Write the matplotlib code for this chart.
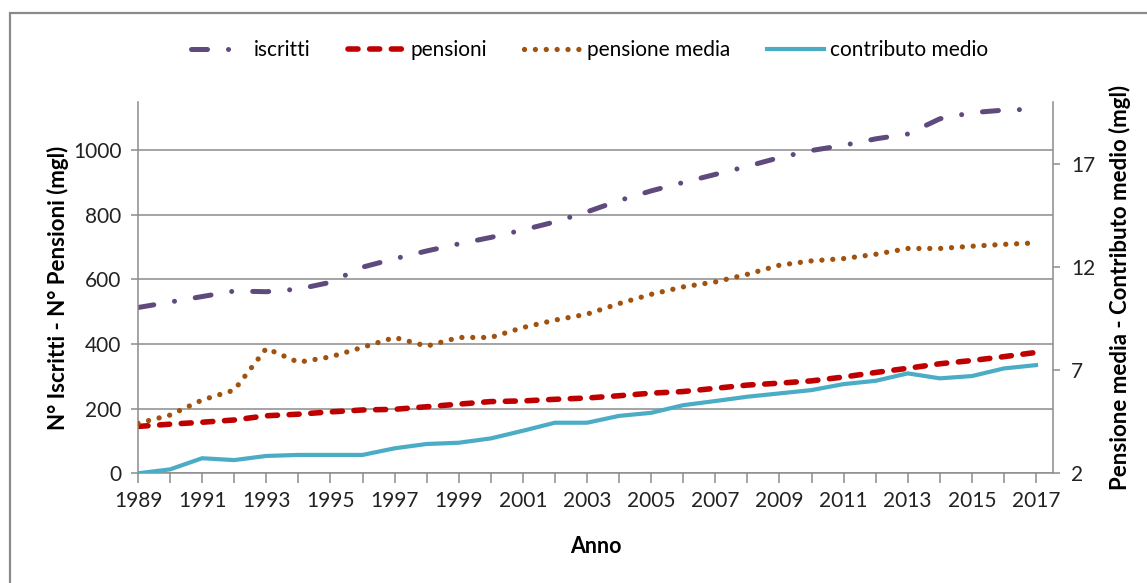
import matplotlib
matplotlib.use("Agg")
import matplotlib.pyplot as plt
from matplotlib.patches import Rectangle

plt.rcParams['font.family'] = ['Lato', 'DejaVu Sans']

# Data
years = list(range(1989, 2018))
iscritti = [513, 530, 547, 564, 562, 570, 591, 638, 664, 688, 710, 730, 753, 778, 809, 844,
            874, 900, 925, 950, 977, 999, 1015, 1035, 1050, 1097, 1116, 1124, 1127]
pensioni = [145, 152, 158, 165, 178, 183, 190, 196, 198, 206, 214, 222, 224, 229, 233, 240,
            248, 253, 263, 273, 279, 286, 298, 312, 325, 339, 349, 361, 374]
pensione_media = [4.42, 4.82, 5.55, 6.03, 8.05, 7.38, 7.64, 8.10, 8.58, 8.16, 8.58, 8.58, 9.06,
                  9.42, 9.71, 10.22, 10.67, 11.03, 11.27, 11.64, 12.08, 12.29, 12.40, 12.61,
                  12.89, 12.89, 13.00, 13.09, 13.16]
contributo_medio = [2.00, 2.19, 2.73, 2.64, 2.84, 2.89, 2.89, 2.89, 3.21, 3.42, 3.48, 3.69, 4.06,
                    4.45, 4.45, 4.78, 4.93, 5.30, 5.50, 5.71, 5.87, 6.03, 6.32, 6.48, 6.84,
                    6.60, 6.71, 7.08, 7.24]

left_ticks = [0, 200, 400, 600, 800, 1000]
right_ticks = [2, 7, 12, 17]

GRID = "#8c8c8c"

fig = plt.figure(figsize=(11.47, 5.83), dpi=100)
ax1 = fig.add_axes([138 / 1147, 1 - 473.3 / 583, (1053 - 138) / 1147, (473.3 - 101.7) / 583])
ax2 = ax1.twinx()

# outer frame (only top and left visible in the reference)
fig.patches.append(Rectangle((10 / 1147, -0.1), 1.2, 1 - 13 / 583 + 0.1,
                             transform=fig.transFigure, fill=False,
                             edgecolor="#8a8a8a", linewidth=1.6))

l1, = ax1.plot(years, iscritti, color="#5f4a7d", linewidth=3.6,
               dashes=(3.2, 4.2, 0.01, 4.2), dash_capstyle="round", label="iscritti")
l2, = ax1.plot(years, pensioni, color="#c00000", linewidth=4.0,
               dashes=(1.8, 2.1), dash_capstyle="round", label="pensioni")
l3, = ax2.plot(years, pensione_media, color="#a0520e", linewidth=3.8,
               dashes=(0.01, 2.05), dash_capstyle="round", label="pensione media")
l4, = ax2.plot(years, contributo_medio, color="#4bacc6", linewidth=3.0,
               label="contributo medio")

ax1.set_xlim(1989, 2017.53)
ax1.set_ylim(0, 1150)
ax2.set_ylim(2, 20)
ax1.set_yticks(left_ticks)
ax2.set_yticks(right_ticks)
ax1.set_xticks(years)
ax1.set_xticklabels([str(y) if (y - 1989) % 2 == 0 else "" for y in years])

ax1.grid(axis="y", color=GRID, linewidth=1.1)
ax1.set_axisbelow(True)

for ax in (ax1, ax2):
    ax.spines["top"].set_visible(False)
    for s in ("left", "right", "bottom"):
        ax.spines[s].set_color(GRID)
        ax.spines[s].set_linewidth(1.1)
ax1.spines["right"].set_visible(False)
ax2.spines["left"].set_visible(False)
ax2.spines["bottom"].set_visible(False)

ax1.tick_params(axis="both", colors=GRID, labelcolor="#222222", labelsize=15, width=1.1)
ax1.tick_params(axis="x", length=7, pad=6)
ax1.tick_params(axis="y", length=5, pad=7)
ax2.tick_params(axis="y", colors=GRID, labelcolor="#222222", labelsize=15, width=1.1,
                length=5, pad=8)

ax1.set_xlabel("Anno", fontsize=15.5, fontweight="bold", labelpad=18)
ax1.set_ylabel("N° Iscritti - N° Pensioni (mgl)", fontsize=16, fontweight="bold", labelpad=3)
ax2.set_ylabel("Pensione media - Contributo medio (mgl)", fontsize=16, fontweight="bold",
               labelpad=10)

fig.legend(handles=[l1, l2, l3, l4], loc="center", bbox_to_anchor=(0.514, 0.914),
           ncol=4, frameon=False, fontsize=15, handlelength=2.7, columnspacing=1.8,
           handletextpad=0.3)

fig.savefig("out.png", dpi=100)
